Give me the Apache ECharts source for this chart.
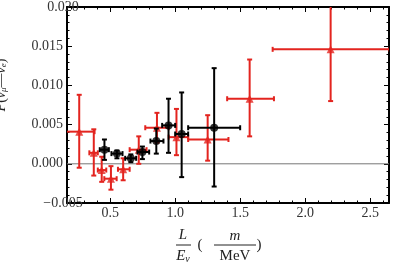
<!DOCTYPE html>
<html><head><meta charset="utf-8">
<script src="https://cdn.jsdelivr.net/npm/echarts@6/dist/echarts.min.js"></script>
<style>html,body{margin:0;padding:0;background:#fff}#c{width:401px;height:267px}</style>
</head><body><div id="c"></div>
<script>
var xMajorTicks = [0.5, 1.0, 1.5, 2.0, 2.5];
var xMinorTicks = [0.2,0.3,0.4,0.6,0.7,0.8,0.9,1.1,1.2,1.3,1.4,1.6,1.7,1.8,1.9,2.1,2.2,2.3,2.4,2.6];

var redX   = [0.262, 0.374, 0.435, 0.506, 0.600, 0.720, 0.860, 1.010, 1.250, 1.573, 2.196];
var redY   = [0.0041, 0.0014, -0.0008, -0.0019, -0.0007, 0.0018, 0.0046, 0.0034, 0.0031, 0.0083, 0.0146];
var redXLo = [0.15, 0.34, 0.405, 0.455, 0.56, 0.65, 0.77, 0.95, 1.10, 1.40, 1.75];
var redXHi = [0.38, 0.405, 0.47, 0.55, 0.65, 0.78, 0.95, 1.10, 1.41, 1.76, 2.65];
var redYLo = [-0.0005, -0.0015, -0.0023, -0.0033, -0.0021, 0.0000, 0.0027, 0.0011, 0.0004, 0.0035, 0.0080];
var redYHi = [0.0088, 0.0044, 0.0009, -0.0003, 0.0007, 0.0035, 0.0065, 0.0070, 0.0062, 0.0133, 0.0212];

var blackX   = [0.456, 0.552, 0.659, 0.748, 0.855, 0.949, 1.050, 1.300];
var blackY   = [0.0018, 0.0013, 0.0007, 0.0015, 0.0029, 0.0049, 0.0038, 0.0046];
var blackXLo = [0.42, 0.51, 0.616, 0.71, 0.81, 0.90, 1.00, 1.10];
var blackXHi = [0.49, 0.595, 0.70, 0.80, 0.91, 1.00, 1.10, 1.50];
var blackYLo = [0.0005, 0.0007, 0.0002, 0.0006, 0.0013, 0.0014, -0.0017, -0.0029];
var blackYHi = [0.0031, 0.0017, 0.0012, 0.0022, 0.0045, 0.0083, 0.0091, 0.0122];

var RED = '#e3241f', BLACK = '#000';
var SERIF = '"Liberation Serif","DejaVu Serif",serif';

function errData(x, y, xlo, xhi, ylo, yhi) {
  return x.map(function (v, i) { return [v, y[i], xlo[i], xhi[i], ylo[i], yhi[i]]; });
}
function pts(x, y) { return x.map(function (v, i) { return [v, y[i]]; }); }

function errRender(color, lw) {
  return function (params, api) {
    var x = api.value(0), y = api.value(1);
    var c = api.coord([x, y]);
    var l = api.coord([api.value(2), y]);
    var r = api.coord([api.value(3), y]);
    var b = api.coord([x, api.value(4)]);
    var t = api.coord([x, api.value(5)]);
    var cap = 2.5;
    var st = { stroke: color, lineWidth: lw };
    return { type: 'group', children: [
      { type: 'line', shape: { x1: l[0], y1: c[1], x2: r[0], y2: c[1] }, style: st },
      { type: 'line', shape: { x1: c[0], y1: b[1], x2: c[0], y2: t[1] }, style: st },
      { type: 'line', shape: { x1: l[0], y1: c[1]-cap, x2: l[0], y2: c[1]+cap }, style: st },
      { type: 'line', shape: { x1: r[0], y1: c[1]-cap, x2: r[0], y2: c[1]+cap }, style: st },
      { type: 'line', shape: { x1: c[0]-cap, y1: b[1], x2: c[0]+cap, y2: b[1] }, style: st },
      { type: 'line', shape: { x1: c[0]-cap, y1: t[1], x2: c[0]+cap, y2: t[1] }, style: st }
    ]};
  };
}

var X0 = 0.168, X1 = 2.645;
function xAx(pos, major, showLabel, showLine) {
  return {
    type: 'value', position: pos, min: X0, max: X1,
    axisLine: { show: showLine, onZero: false, lineStyle: { color: '#000', width: 2 } },
    axisTick: { show: true, inside: true, length: major ? 5 : 2.5, customValues: major ? xMajorTicks : xMinorTicks, lineStyle: { color: '#000', width: 1 } },
    axisLabel: { show: showLabel, customValues: xMajorTicks, margin: 3, fontFamily: SERIF, fontSize: 14, color: '#333', formatter: function (v) { return v.toFixed(1); } },
    splitLine: { show: false }
  };
}
function yAx(pos, showLabel) {
  return {
    type: 'value', position: pos, min: -0.005, max: 0.020, interval: 0.005,
    axisLine: { show: true, onZero: false, lineStyle: { color: '#000', width: 2 } },
    axisTick: { show: true, inside: true, length: 5, lineStyle: { color: '#000', width: 1 } },
    minorTick: { show: true, splitNumber: 5, length: 2.5, lineStyle: { color: '#000', width: 1 } },
    axisLabel: { show: showLabel, margin: 4, fontFamily: SERIF, fontSize: 14, color: '#333',
      alignMinLabel: 'center', alignMaxLabel: 'center',
      formatter: function (v) { var s = Math.abs(v).toFixed(3); return v < -1e-9 ? '\u2212' + s : s; } },
    splitLine: { show: false }
  };
}

var chart = echarts.init(document.getElementById('c'), null, { renderer: 'canvas' });
chart.setOption({
  animation: false,
  grid: { left: 67, right: 12, top: 3, bottom: 64 },
  xAxis: [xAx('bottom', true, true, true), xAx('bottom', false, false, false), xAx('top', true, false, true), xAx('top', false, false, false)],
  yAxis: [yAx('left', true), yAx('right', false)],
  series: [
    { type: 'line', data: [[X0, 0], [X1, 0]], symbol: 'none', lineStyle: { color: '#777', width: 1 }, silent: true, z: 1 },
    { type: 'custom', clip: true, data: errData(redX, redY, redXLo, redXHi, redYLo, redYHi), renderItem: errRender(RED, 2), z: 2 },
    { type: 'scatter', data: pts(redX, redY), symbol: 'triangle', symbolSize: 8, itemStyle: { color: RED }, z: 3 },
    { type: 'custom', clip: true, data: errData(blackX, blackY, blackXLo, blackXHi, blackYLo, blackYHi), renderItem: errRender(BLACK, 2), z: 4 },
    { type: 'scatter', data: pts(blackX, blackY), symbol: 'circle', symbolSize: 8, itemStyle: { color: BLACK }, z: 5 }
  ],
  graphic: [
    { type: 'text', x: 1, y: 85, rotation: Math.PI / 2, style: {
        text: '{i|P}{n|(}{i|ν}{s|μ}{n|—}{i|ν}{s|e}{n|)}', align: 'center', verticalAlign: 'middle',
        rich: { i: { fontFamily: SERIF, fontStyle: 'italic', fontSize: 14, fill: '#222' },
                n: { fontFamily: SERIF, fontSize: 14, fill: '#222' },
                s: { fontFamily: SERIF, fontStyle: 'italic', fontSize: 9, fill: '#222', verticalAlign: 'bottom' } } } },
    { type: 'text', x: 183, y: 235, style: { text: 'L', font: 'italic 15px ' + SERIF, fill: '#222', align: 'center', verticalAlign: 'middle' } },
    { type: 'line', shape: { x1: 176, y1: 245, x2: 191, y2: 245 }, style: { stroke: '#222', lineWidth: 1 } },
    { type: 'text', x: 183, y: 256, style: { text: '{i|E}{s|ν}', align: 'center', verticalAlign: 'middle',
        rich: { i: { fontFamily: SERIF, fontStyle: 'italic', fontSize: 15, fill: '#222' },
                s: { fontFamily: SERIF, fontStyle: 'italic', fontSize: 10, fill: '#222', verticalAlign: 'bottom', padding: [6, 0, 0, 0] } } } },
    { type: 'text', x: 200, y: 245, style: { text: '(', font: '15px ' + SERIF, fill: '#222', align: 'center', verticalAlign: 'middle' } },
    { type: 'text', x: 235, y: 236, style: { text: 'm', font: 'italic 15px ' + SERIF, fill: '#222', align: 'center', verticalAlign: 'middle' } },
    { type: 'line', shape: { x1: 214, y1: 245, x2: 256, y2: 245 }, style: { stroke: '#222', lineWidth: 1 } },
    { type: 'text', x: 235, y: 256, style: { text: 'MeV', font: '15px ' + SERIF, fill: '#222', align: 'center', verticalAlign: 'middle' } },
    { type: 'text', x: 259, y: 245, style: { text: ')', font: '15px ' + SERIF, fill: '#222', align: 'center', verticalAlign: 'middle' } }
  ]
});
</script></body></html>
